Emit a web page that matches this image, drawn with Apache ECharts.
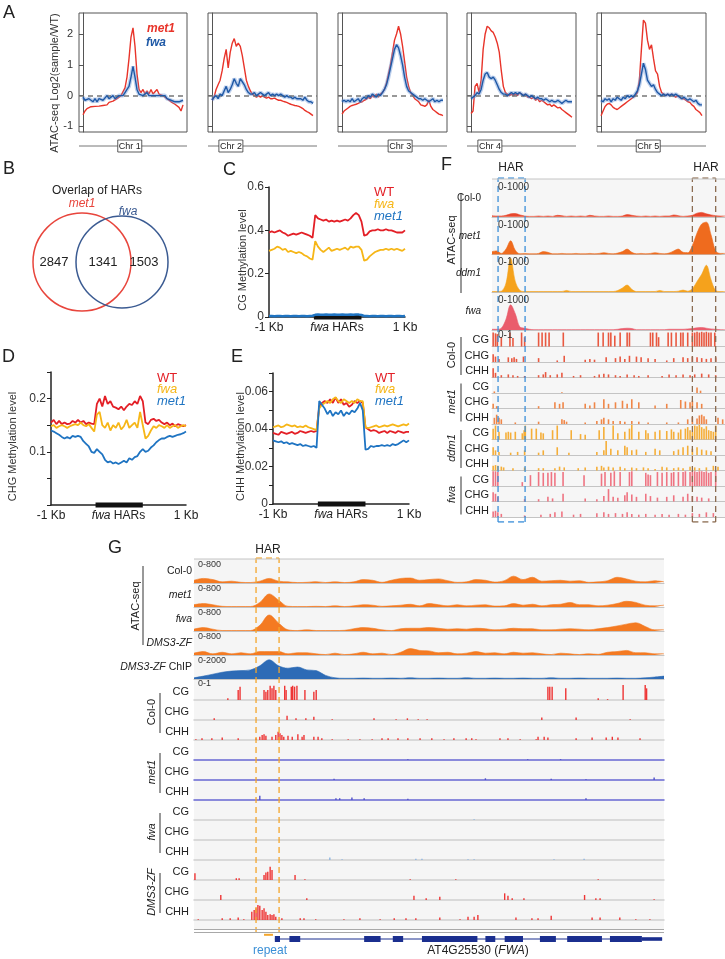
<!DOCTYPE html>
<html><head><meta charset="utf-8">
<script src="https://cdn.jsdelivr.net/npm/echarts@6/dist/echarts.min.js"></script>
<style>html,body{margin:0;padding:0;background:#fff}#c{width:725px;height:959px}</style>
</head><body><div id="c"></div>
<script>
// ---------- Panel A data (x = 0..100, 51 points) ----------
const chrNames = ['Chr 1','Chr 2','Chr 3','Chr 4','Chr 5'];
const chrCentromere = [0.47, 0.21, 0.57, 0.21, 0.47];
const aTicks = [-1, 0, 1, 2];
const chr1Met1 = [-0.62,-0.5,-0.42,-0.38,-0.36,-0.34,-0.35,-0.32,-0.34,-0.3,-0.32,-0.28,-0.3,-0.22,-0.28,-0.18,-0.12,-0.1,-0.05,0.0,0.05,0.25,0.6,1.2,1.9,2.2,1.6,0.7,0.2,0.1,0.2,0.05,0.15,0.05,0.2,0.05,0.1,0.2,0.05,0.1,0.0,-0.05,-0.1,-0.15,-0.2,-0.2,-0.28,-0.3,-0.38,-0.5,-0.3];
const chr1Fwa = [-0.05,-0.15,-0.2,-0.1,-0.15,-0.2,-0.1,-0.2,-0.1,-0.05,-0.15,-0.1,0.0,-0.1,-0.05,0.0,-0.1,-0.05,0.0,0.05,0.0,0.1,0.2,0.3,0.6,0.95,0.6,0.2,0.05,0.1,0.0,0.05,0.1,0.0,0.05,0.0,0.05,0.0,0.05,0.0,-0.05,0.0,-0.1,-0.05,-0.15,-0.1,-0.2,-0.15,-0.2,-0.25,-0.15];
const chr2Met1 = [-0.15,-0.05,0.2,0.35,0.5,0.8,1.2,1.5,0.9,1.4,1.7,1.85,1.6,1.7,1.6,1.3,0.9,0.5,0.3,0.15,0.05,0.0,-0.05,0.0,-0.05,0.0,-0.05,-0.08,-0.05,-0.1,-0.1,-0.08,-0.12,-0.15,-0.15,-0.18,-0.2,-0.22,-0.25,-0.28,-0.3,-0.32,-0.33,-0.35,-0.38,-0.42,-0.48,-0.52,-0.55,-0.6,-0.65];
const chr2Fwa = [-0.15,-0.05,0.0,-0.1,0.05,0.0,0.15,0.3,0.1,0.2,0.35,0.55,0.4,0.3,0.55,0.45,0.35,0.2,0.1,0.05,0.05,0.1,0.0,0.05,0.1,0.05,0.0,0.05,0.1,0.0,0.05,0.0,0.05,0.0,0.05,0.0,-0.05,0.0,-0.05,-0.05,-0.1,-0.05,-0.1,-0.1,-0.1,-0.15,-0.05,-0.15,-0.2,-0.2,-0.25];
const chr3Met1 = [-0.6,-0.5,-0.45,-0.4,-0.35,-0.32,-0.3,-0.28,-0.25,-0.22,-0.2,-0.15,-0.12,-0.05,-0.1,0.0,-0.05,0.05,-0.05,0.05,0.1,0.2,0.4,0.7,1.0,1.4,1.8,2.0,2.25,2.0,1.6,1.1,0.6,0.3,0.1,0.0,-0.1,-0.15,-0.2,-0.3,-0.32,-0.35,-0.3,-0.15,-0.35,-0.45,-0.5,-0.55,-0.6,-0.62,-0.65];
const chr3Fwa = [-0.2,-0.15,-0.2,-0.15,-0.2,-0.1,-0.2,-0.15,-0.1,-0.2,-0.1,-0.05,-0.1,0.0,-0.05,0.05,0.0,-0.05,0.05,0.0,0.1,0.2,0.35,0.6,0.9,1.2,1.5,1.65,1.55,1.3,1.0,0.6,0.3,0.15,0.1,0.05,0.0,-0.05,-0.1,-0.1,-0.15,-0.1,-0.15,-0.2,-0.15,-0.1,-0.2,-0.15,-0.2,-0.15,-0.15];
const chr4Met1 = [-0.58,-0.5,0.3,0.4,0.1,0.5,1.5,2.0,2.25,2.2,2.1,2.05,1.9,1.7,1.4,0.8,0.3,0.1,0.05,0.0,0.05,0.0,0.05,0.0,0.1,0.05,0.0,0.05,-0.05,-0.05,-0.1,-0.05,-0.15,-0.1,-0.2,-0.15,-0.2,-0.25,-0.3,-0.28,-0.35,-0.3,-0.35,-0.4,-0.38,-0.45,-0.5,-0.55,-0.6,-0.65,-0.7];
const chr4Fwa = [-0.1,-0.05,0.0,0.1,0.05,0.2,0.5,0.7,0.75,0.6,0.55,0.6,0.5,0.35,0.2,0.1,0.05,0.05,0.0,0.05,0.1,0.05,0.1,0.05,0.1,0.05,0.0,0.05,0.0,-0.05,0.0,-0.05,-0.1,-0.05,-0.1,-0.1,-0.15,-0.1,-0.15,-0.2,-0.15,-0.2,-0.2,-0.15,-0.2,-0.25,-0.2,-0.15,-0.2,-0.2,-0.2];
const chr5Met1 = [-0.65,-0.5,-0.35,-0.28,-0.25,-0.3,-0.38,-0.42,-0.45,-0.4,-0.35,-0.3,-0.25,-0.2,-0.15,-0.1,-0.05,0.0,0.1,0.5,1.5,2.45,2.35,1.8,1.5,1.65,1.2,0.8,0.7,0.3,0.1,0.05,0.0,0.05,0.0,0.05,0.0,-0.05,0.0,-0.05,-0.1,-0.1,-0.15,-0.2,-0.22,-0.3,-0.35,-0.45,-0.5,-0.55,-0.65];
const chr5Fwa = [-0.15,-0.2,-0.1,-0.15,-0.1,-0.2,-0.1,-0.15,-0.05,-0.1,-0.15,-0.05,-0.1,0.0,-0.05,0.0,-0.05,0.05,0.15,0.35,0.7,1.05,0.85,0.5,0.4,0.3,0.35,0.2,0.1,0.05,0.0,0.05,0.0,0.05,0.0,0.05,0.0,0.05,0.0,-0.05,-0.1,-0.05,-0.1,-0.15,-0.1,-0.15,-0.2,-0.15,-0.25,-0.3,-0.3];
const aMet1 = [chr1Met1, chr2Met1, chr3Met1, chr4Met1, chr5Met1];
const aFwa = [chr1Fwa, chr2Fwa, chr3Fwa, chr4Fwa, chr5Fwa];

// ---------- Panel B ----------
const vennSets = ['met1', 'fwa'];
const vennCounts = [2847, 1341, 1503];

// ---------- Panels C, D, E (x = 0..100, 51 points; HAR from 33 to 68) ----------
const harSpan = [33, 68];
const cWT = [0.39,0.395,0.39,0.395,0.40,0.39,0.385,0.375,0.38,0.385,0.38,0.385,0.39,0.385,0.38,0.375,0.365,0.47,0.455,0.45,0.445,0.45,0.44,0.445,0.44,0.445,0.44,0.445,0.45,0.445,0.455,0.47,0.48,0.47,0.44,0.375,0.38,0.395,0.40,0.40,0.405,0.40,0.40,0.405,0.40,0.40,0.395,0.39,0.39,0.39,0.40];
const cFwa = [0.305,0.31,0.315,0.325,0.32,0.31,0.315,0.30,0.305,0.30,0.295,0.30,0.295,0.285,0.28,0.27,0.265,0.35,0.325,0.31,0.30,0.31,0.32,0.305,0.31,0.315,0.31,0.315,0.32,0.31,0.325,0.32,0.325,0.325,0.31,0.26,0.265,0.28,0.29,0.30,0.305,0.31,0.31,0.315,0.31,0.315,0.31,0.315,0.31,0.305,0.315];
const cMet1 = [0.005,0.005,0.004,0.005,0.005,0.004,0.005,0.005,0.004,0.005,0.005,0.004,0.005,0.005,0.004,0.005,0.006,0.01,0.011,0.01,0.01,0.011,0.01,0.01,0.011,0.01,0.01,0.011,0.01,0.01,0.011,0.01,0.012,0.011,0.009,0.005,0.005,0.004,0.005,0.005,0.004,0.005,0.005,0.004,0.005,0.005,0.004,0.005,0.005,0.004,0.005];
const dWT = [0.155,0.16,0.152,0.158,0.152,0.155,0.152,0.153,0.158,0.155,0.16,0.155,0.158,0.152,0.155,0.153,0.152,0.19,0.2,0.185,0.205,0.19,0.195,0.185,0.183,0.18,0.185,0.178,0.185,0.19,0.188,0.195,0.19,0.205,0.195,0.155,0.152,0.16,0.162,0.158,0.16,0.155,0.152,0.155,0.15,0.153,0.148,0.152,0.15,0.148,0.15];
const dFwa = [0.148,0.15,0.145,0.148,0.15,0.148,0.145,0.148,0.15,0.152,0.15,0.155,0.15,0.148,0.152,0.145,0.138,0.17,0.175,0.15,0.145,0.155,0.14,0.15,0.145,0.155,0.142,0.148,0.16,0.145,0.15,0.155,0.145,0.175,0.15,0.125,0.13,0.14,0.148,0.145,0.15,0.148,0.145,0.15,0.145,0.148,0.15,0.145,0.148,0.15,0.148];
const dMet1 = [0.14,0.138,0.135,0.132,0.128,0.125,0.128,0.125,0.13,0.128,0.13,0.128,0.12,0.115,0.11,0.1,0.098,0.105,0.1,0.095,0.085,0.08,0.082,0.078,0.08,0.077,0.08,0.083,0.08,0.088,0.085,0.09,0.092,0.1,0.105,0.1,0.102,0.108,0.112,0.118,0.122,0.125,0.125,0.128,0.13,0.128,0.13,0.132,0.133,0.135,0.138];
const eWT = [0.038,0.0375,0.037,0.0385,0.038,0.0375,0.038,0.0385,0.0375,0.038,0.039,0.0385,0.038,0.0385,0.039,0.0385,0.039,0.052,0.054,0.055,0.054,0.056,0.054,0.057,0.054,0.056,0.053,0.054,0.052,0.053,0.055,0.054,0.055,0.054,0.041,0.040,0.039,0.0395,0.039,0.038,0.0385,0.039,0.038,0.039,0.0385,0.038,0.039,0.0385,0.038,0.0385,0.0385];
const eFwa = [0.041,0.0415,0.042,0.041,0.0415,0.0425,0.042,0.0415,0.042,0.041,0.0415,0.041,0.042,0.041,0.0405,0.040,0.0395,0.051,0.053,0.054,0.055,0.054,0.056,0.057,0.055,0.054,0.056,0.055,0.054,0.055,0.054,0.056,0.055,0.055,0.041,0.0405,0.041,0.0415,0.042,0.041,0.0415,0.042,0.0415,0.042,0.0425,0.042,0.0415,0.042,0.0425,0.042,0.043];
const eMet1 = [0.034,0.0335,0.033,0.0335,0.0325,0.033,0.032,0.0325,0.032,0.0315,0.032,0.031,0.0315,0.031,0.0305,0.031,0.030,0.055,0.053,0.051,0.048,0.05,0.047,0.049,0.048,0.05,0.047,0.049,0.048,0.05,0.049,0.051,0.054,0.05,0.029,0.0295,0.031,0.0305,0.031,0.031,0.0315,0.031,0.0315,0.031,0.032,0.0315,0.032,0.033,0.034,0.033,0.034];

// ---------- Panel F (position 0..100) ----------
const fHar = [[2.6, 14.2], [86, 96]];
const fColATAC = [0.03,0.02,0.02,0.04,0.08,0.09,0.05,0.02,0.01,0.01,0.02,0.01,0.02,0.01,0.04,0.03,0.01,0.02,0.01,0.02,0.01,0.04,0.02,0.01,0.01,0.02,0.01,0.01,0.02,0.06,0.04,0.02,0.01,0.02,0.01,0.02,0.01,0.02,0.02,0.05,0.03,0.01,0.02,0.04,0.1,0.12,0.08,0.05,0.03,0.02,0.02];
const fMet1ATAC = [0.08,0.1,0.03,0.15,0.38,0.12,0.02,0.03,0.02,0.02,0.03,0.08,0.06,0.02,0.02,0.03,0.02,0.02,0.03,0.02,0.02,0.03,0.02,0.03,0.05,0.03,0.02,0.04,0.08,0.15,0.06,0.02,0.03,0.02,0.03,0.05,0.03,0.02,0.04,0.1,0.15,0.06,0.05,0.25,0.6,0.85,0.9,0.55,0.1,0.03,0.03];
const fDdm1ATAC = [0.02,0.02,0.03,0.25,0.95,0.3,0.05,0.02,0.02,0.02,0.02,0.02,0.02,0.02,0.02,0.02,0.05,0.02,0.02,0.02,0.02,0.02,0.02,0.02,0.02,0.02,0.02,0.05,0.12,0.2,0.08,0.02,0.02,0.02,0.02,0.02,0.05,0.02,0.02,0.02,0.03,0.06,0.03,0.1,0.3,0.5,0.75,0.35,0.05,0.02,0.02];
const fFwaATAC = [0.02,0.02,0.05,0.3,0.7,0.45,0.08,0.05,0.02,0.01,0.01,0.01,0.01,0.01,0.01,0.01,0.01,0.01,0.01,0.01,0.01,0.01,0.01,0.01,0.01,0.01,0.01,0.02,0.04,0.05,0.04,0.01,0.01,0.01,0.01,0.01,0.01,0.01,0.02,0.02,0.02,0.02,0.03,0.04,0.06,0.07,0.05,0.03,0.02,0.01,0.01];
const fCol0CG = [[0.5,0.9],[1.5,0.85],[2.3,0.8],[4,0.6],[7.7,0.9],[9,0.55],[12.7,0.9],[14,0.6],[20,0.9],[21.5,0.9],[23,0.9],[24.5,0.9],[30.6,0.9],[45.6,0.9],[47.7,0.9],[50,0.9],[51,0.9],[52.7,0.7],[55,0.9],[58,0.9],[59,0.9],[68,0.9],[69,0.9],[70.6,0.9],[71.5,0.6],[75.6,0.9],[77,0.9],[79,0.9],[81,0.9],[82,0.9],[84,0.9],[86,0.9],[87,0.9],[88,0.95],[89,0.9],[90,0.95],[91,0.9],[92,0.95],[93,0.9],[94,0.9],[95.6,0.9]];
const fCol0CHG = [[0.5,0.5],[1.5,0.35],[3,0.2],[7,0.3],[8.5,0.25],[9.5,0.3],[10.5,0.2],[13.5,0.35],[20,0.25],[28,0.1],[31,0.4],[40,0.15],[42,0.2],[44,0.15],[49,0.3],[53,0.25],[55,0.35],[57,0.2],[59,0.4],[62,0.35],[64,0.3],[67,0.25],[70,0.2],[75,0.1],[78,0.25],[82,0.3],[84,0.25],[86,0.35],[88,0.3],[90,0.25],[92,0.2],[94,0.25],[96,0.3]];
const fCol0CHH = [[0.5,0.6],[1.5,0.3],[4,0.15],[7,0.2],[9,0.15],[11,0.1],[14,0.1],[20,0.15],[22,0.2],[23,0.35],[25,0.15],[28,0.2],[30,0.3],[35,0.1],[38,0.15],[44,0.1],[46,0.2],[48,0.25],[50,0.2],[53,0.15],[55,0.1],[58,0.2],[61,0.15],[63,0.1],[67,0.15],[73,0.1],[76,0.2],[79,0.15],[82,0.2],[85,0.15],[87,0.2],[90,0.25],[93,0.2],[96,0.15]];
const fMet1CG = [[1,0.1],[30,0.05],[88,0.35],[89.5,0.15]];
const fMet1CHG = [[0.5,0.3],[2,0.15],[20,0.15],[27,0.4],[29,0.3],[30.5,0.4],[40,0.3],[42,0.2],[44,0.4],[48,0.6],[50,0.3],[53,0.4],[56,0.5],[58,0.3],[60,0.6],[63,0.4],[70,0.2],[75,0.3],[81,0.55],[83,0.45],[85,0.4],[86,0.5],[88,0.4],[90,0.3]];
const fMet1CHH = [[1,0.4],[2,0.6],[3,0.4],[4,0.3],[10,0.1],[20,0.15],[30,0.3],[31,0.25],[32,0.15],[40,0.1],[45,0.2],[47,0.3],[48,0.4],[50,0.3],[52,0.2],[55,0.2],[57,0.15],[60,0.2],[63,0.15],[67,0.1],[75,0.1],[80,0.1],[84,0.3],[86,0.45],[88,0.35],[89,0.55],[90,0.6],[91,0.5],[92,0.3],[97,0.4],[99,0.3]];
const fDdm1CG = [[0.5,0.7],[1.5,0.9],[3,0.5],[6,0.45],[7,0.5],[8,0.45],[10,0.5],[13,0.4],[13.8,0.6],[14.3,0.9],[17,0.7],[19,0.7],[21,0.45],[22,0.4],[26,0.6],[28,0.9],[34,0.6],[38,0.35],[40,0.3],[46,0.6],[48,0.8],[52,0.9],[54,0.4],[57,0.5],[59,0.7],[60,0.95],[63,0.5],[66,0.6],[67,0.4],[70,0.5],[72,0.6],[75,0.55],[77,0.65],[78,0.5],[80,0.45],[81,0.65],[83,0.7],[84,0.8],[85,0.6],[86,0.5],[87,0.9],[88,0.85],[89,0.95],[90,0.8],[91,0.7],[92,0.85],[93,0.6],[94,0.55],[95,0.5],[96,0.9]];
const fDdm1CHG = [[0.5,0.5],[1.5,0.3],[3,0.2],[8,0.15],[11,0.2],[14,0.3],[20,0.15],[22,0.3],[28,0.5],[33,0.15],[45,0.2],[48,0.3],[49,0.9],[51,0.4],[54,0.3],[57,0.6],[58,0.5],[60,0.3],[62,0.35],[66,0.2],[70,0.4],[72,0.3],[78,0.25],[80,0.35],[82,0.5],[84,0.6],[86,0.4],[88,0.5],[90,0.35],[92,0.3],[94,0.25]];
const fDdm1CHH = [[0.5,0.3],[1.5,0.35],[2.5,0.3],[4,0.25],[5,0.2],[9,0.15],[14,0.2],[20,0.15],[22,0.15],[27,0.15],[29,0.25],[31,0.2],[37,0.15],[40,0.2],[45,0.25],[47,0.3],[48,0.2],[50,0.25],[52,0.2],[55,0.25],[57,0.15],[60,0.2],[62,0.15],[65,0.2],[67,0.15],[70,0.1],[73,0.25],[75,0.2],[78,0.15],[80,0.2],[82,0.15],[85,0.25],[87,0.2],[89,0.15],[92,0.2],[95,0.3],[97,0.25]];
const fFwaCG = [[0.5,0.95],[1.5,0.95],[2.5,0.9],[13,0.25],[16.5,0.7],[20,0.9],[22,0.85],[24,0.85],[25.5,0.9],[27,0.85],[30.5,0.9],[39.5,0.7],[47,0.8],[48.5,0.9],[51,0.85],[52.5,0.95],[55,0.9],[59,0.9],[60,0.95],[66,0.85],[67,0.75],[68,0.7],[71,0.9],[73,0.85],[75,0.9],[77,0.85],[78,0.9],[80,0.9],[82,0.9],[83,0.95],[85,0.9],[86,0.95],[87,0.95],[88,0.9],[89,0.95],[90,0.95],[91,0.9],[92,0.95],[93,0.85],[94,0.9],[96,0.95]];
const fFwaCHG = [[0.5,0.6],[1.5,0.5],[2.5,0.3],[14,0.15],[20,0.15],[24,0.3],[26,0.2],[30.5,0.5],[40,0.2],[45,0.15],[48,0.35],[50,0.8],[52,0.3],[54,0.25],[57,0.4],[58,0.6],[60,0.45],[62,0.3],[66,0.5],[68,0.35],[71,0.25],[75,0.3],[78,0.4],[82,0.3],[84,0.5],[86,0.35],[88,0.3],[90,0.25],[93,0.2]];
const fFwaCHH = [[0.5,0.35],[1.5,0.4],[2.5,0.3],[4,0.2],[14,0.1],[21,0.15],[25,0.2],[27,0.3],[30,0.35],[35,0.15],[38,0.2],[45,0.25],[48,0.3],[50,0.2],[53,0.25],[56,0.2],[58,0.3],[60,0.2],[63,0.15],[66,0.2],[70,0.15],[73,0.2],[76,0.15],[80,0.2],[83,0.15],[86,0.25],[89,0.2],[92,0.3],[95,0.25]];

// ---------- Panel G (position 0..100) ----------
const gHar = [13.2, 18.1];
const gCol0ATAC = [0.12,0.2,0.15,0.05,0.08,0.03,0.02,0.08,0.2,0.08,0.05,0.02,0.03,0.06,0.02,0.05,0.02,0.05,0.15,0.12,0.03,0.12,0.2,0.22,0.12,0.15,0.18,0.1,0.03,0.05,0.15,0.12,0.04,0.1,0.3,0.15,0.25,0.08,0.1,0.12,0.08,0.1,0.03,0.05,0.1,0.25,0.18,0.08,0.05,0.1,0.05];
const gMet1ATAC = [0.1,0.15,0.1,0.03,0.02,0.02,0.02,0.2,0.57,0.3,0.03,0.02,0.02,0.03,0.02,0.05,0.02,0.05,0.1,0.08,0.03,0.05,0.08,0.12,0.05,0.15,0.1,0.05,0.1,0.05,0.08,0.1,0.04,0.05,0.15,0.08,0.12,0.05,0.1,0.12,0.2,0.1,0.1,0.05,0.08,0.15,0.25,0.2,0.08,0.05,0.08];
const gFwaATAC = [0.08,0.15,0.08,0.02,0.02,0.02,0.02,0.25,0.7,0.35,0.05,0.02,0.05,0.02,0.02,0.02,0.03,0.1,0.15,0.12,0.05,0.02,0.1,0.12,0.12,0.15,0.12,0.08,0.1,0.08,0.12,0.1,0.05,0.08,0.12,0.1,0.1,0.05,0.05,0.08,0.1,0.08,0.05,0.1,0.15,0.22,0.3,0.36,0.2,0.05,0.05];
const gDmsATAC = [0.08,0.15,0.05,0.12,0.05,0.1,0.05,0.15,0.15,0.15,0.05,0.1,0.1,0.05,0.02,0.08,0.02,0.05,0.12,0.05,0.08,0.02,0.12,0.28,0.2,0.18,0.1,0.12,0.05,0.08,0.15,0.08,0.1,0.05,0.12,0.08,0.1,0.05,0.02,0.08,0.05,0.02,0.05,0.03,0.12,0.15,0.2,0.1,0.1,0.05,0.05];
const gChIP = [0.05,0.12,0.2,0.28,0.33,0.35,0.38,0.55,0.8,0.55,0.45,0.5,0.38,0.35,0.15,0.05,0.03,0.03,0.04,0.03,0.03,0.04,0.03,0.05,0.03,0.03,0.04,0.03,0.03,0.05,0.03,0.03,0.04,0.03,0.03,0.04,0.03,0.03,0.05,0.03,0.03,0.04,0.03,0.03,0.03,0.04,0.03,0.03,0.05,0.08,0.12];
const gCol0CG = [[7.2,0.1],[9.4,0.6],[9.8,0.8],[14.9,0.6],[15.3,0.5],[15.7,0.6],[16.2,0.85],[16.6,0.7],[17,0.85],[17.4,0.6],[19.3,0.85],[19.6,0.6],[20.7,0.8],[21,0.85],[21.4,0.8],[21.9,0.85],[23.6,0.6],[25.5,0.5],[26,0.6],[75.3,0.8],[75.7,0.8],[76.2,0.8],[79.1,0.7],[86,0.1],[88,0.05],[91.3,0.9],[96,0.9],[96.3,0.7]];
const gCol0CHG = [[4.3,0.1],[19.8,0.25],[21.7,0.1],[23.8,0.1],[25.5,0.2],[29.4,0.05],[38.3,0.1],[43,0.05],[45.4,0.1],[47.7,0.05],[49.6,0.05],[74,0.15],[81.3,0.15],[92.8,0.05]];
const gCol0CHH = [[0.4,0.05],[1.7,0.1],[3.8,0.1],[6,0.15],[9.4,0.1],[13.2,0.1],[14,0.2],[14.5,0.3],[14.9,0.35],[15.3,0.25],[16.6,0.2],[17.4,0.3],[17.9,0.5],[18.3,0.4],[18.7,0.3],[19.1,0.2],[20,0.25],[20.9,0.2],[22.1,0.35],[23,0.2],[23.4,0.3],[25.5,0.2],[26.4,0.2],[27.2,0.1],[29.4,0.05],[32.8,0.05],[35.3,0.05],[37.9,0.05],[40,0.1],[41.3,0.1],[43.4,0.1],[45.5,0.1],[48.1,0.1],[50.6,0.1],[53.2,0.05],[55.3,0.1],[57.9,0.1],[59.1,0.1],[60,0.05],[65.1,0.1],[66.8,0.1],[69.4,0.05],[72.8,0.05],[73.2,0.2],[74.5,0.2],[75.3,0.15],[81.3,0.1],[84.7,0.15],[87.7,0.15],[89,0.2],[90.2,0.15],[94.9,0.1]];
const gMet1CG = [[45.5,0.05],[71,0.05],[78,0.05]];
const gMet1CHG = [[29.8,0.08],[62,0.1],[76,0.08],[83.4,0.05],[97.9,0.15]];
const gMet1CHH = [[14,0.25],[30.2,0.1],[31,0.1],[33.6,0.15],[36.2,0.1],[45.5,0.08],[83.4,0.1]];
const gFwaCG = [[59.6,0.05]];
const gFwaCHG = [];
const gFwaCHH = [[28.9,0.15],[31.5,0.05],[47.2,0.08],[48.5,0.08],[58.3,0.05],[59.6,0.05],[76.6,0.05],[83,0.08]];
const gDmsCG = [[0.2,0.4],[9,0.1],[9.6,0.1],[14.9,0.3],[15.3,0.45],[15.7,0.5],[16.2,0.8],[16.6,0.6],[21.5,0.3],[23.6,0.05],[46,0.05],[55.7,0.05],[86,0.05]];
const gDmsCHG = [[5.7,0.3],[24,0.1],[46.8,0.25],[49.4,0.1],[52.3,0.2],[66.1,0.4],[66.8,0.25],[67.7,0.1],[70.2,0.1],[83.1,0.3],[85.5,0.1],[86.4,0.1],[97.9,0.05]];
const gDmsCHH = [[0.9,0.05],[6,0.1],[7.7,0.1],[9.4,0.15],[10.6,0.05],[12.3,0.5],[12.8,0.6],[13.2,0.7],[13.6,0.9],[14,0.85],[14.5,0.6],[14.9,0.7],[15.3,0.5],[15.7,0.3],[16.2,0.35],[16.6,0.3],[17,0.35],[17.4,0.2],[18.7,0.1],[22.6,0.1],[23.4,0.1],[25.9,0.05],[31.9,0.05],[35.3,0.1],[39.6,0.05],[42.6,0.1],[45.1,0.1],[47.2,0.1],[52.3,0.15],[56.6,0.05],[58.3,0.2],[59.6,0.2],[60.4,0.3],[68.5,0.15],[71.9,0.1],[73.2,0.1],[76,0.25],[84.7,0.15],[86.4,0.15],[90.6,0.15],[94,0.05],[97,0.05]];
const geneExons = [[17.2,18.3,1],[20.3,22.6,1],[36.2,39.7,1],[42.3,44.5,1],[48.5,60.3,1],[62,64.1,1],[66.1,70,1],[73.6,77,1],[79.4,86.8,1],[88.5,95.3,1],[95.3,99.6,0.6]];
const geneSpan = [17.2, 99.6];
const repeatSpan = [14.9, 16.8];

// ================= build =================
const FF = "'Liberation Sans', Arial, Helvetica, sans-serif";
const grids = [], xAxes = [], yAxes = [], series = [], graphics = [];
function addGrid(g, xa, ya) {
  grids.push(Object.assign({containLabel: false}, g));
  const i = grids.length - 1;
  xa.gridIndex = i; ya.gridIndex = i;
  xAxes.push(xa); yAxes.push(ya);
  return i;
}
function T(x, y, text, o) {
  o = o || {};
  const st = {text: text, fill: o.color || '#222',
    font: (o.style || 'normal') + ' ' + (o.weight || 'normal') + ' ' + (o.size || 12) + 'px ' + FF,
    textAlign: o.align || 'left', textVerticalAlign: o.va || 'middle',
    align: o.align || 'left', verticalAlign: o.va || 'middle'};
  if (o.rich) st.rich = o.rich;
  graphics.push({type: 'text', x: x, y: y, rotation: o.rot || 0, z: 100, silent: true, style: st});
}
function L(x1, y1, x2, y2, color, w, dash) {
  graphics.push({type: 'line', z: 50, silent: true, shape: {x1, y1, x2, y2},
    style: {stroke: color, lineWidth: w || 1, lineDash: dash || null}});
}
const idx = (arr) => arr.map((v, i) => [i * 100 / (arr.length - 1), v]);
const hiddenX = (min, max) => ({type: 'value', min, max, show: false});

// ---------- Panel A ----------
const chrBoxes = [[79,187],[208,317],[338,447],[467,576],[597,706]];
chrNames.forEach((n, k) => {
  const [l, r] = chrBoxes[k];
  const gi = addGrid({left: l, top: 13, width: r - l, height: 119, show: true, borderColor: '#555', borderWidth: 1},
    hiddenX(-4, 104),
    {type: 'value', min: -1.18, max: 2.68,
     axisLine: {show: true, lineStyle: {color: '#555'}}, splitLine: {show: false},
     axisTick: {show: true, customValues: aTicks, length: 4, lineStyle: {color: '#555'}},
     axisLabel: {show: k === 0, customValues: aTicks, fontSize: 11, color: '#333', margin: 6, fontFamily: FF}});
  series.push({type: 'line', xAxisIndex: gi, yAxisIndex: gi, data: idx(aMet1[k]), symbol: 'none',
    lineStyle: {color: '#e8342a', width: 1.4}, z: 3,
    markLine: {silent: true, symbol: 'none', label: {show: false},
      lineStyle: {type: [5, 4], color: '#777', width: 1.5}, data: [{yAxis: 0}]}});
  series.push({type: 'line', xAxisIndex: gi, yAxisIndex: gi, data: idx(aFwa[k]), symbol: 'none',
    lineStyle: {color: 'rgba(110,150,215,0.45)', width: 4}, z: 4});
  series.push({type: 'line', xAxisIndex: gi, yAxisIndex: gi, data: idx(aFwa[k]), symbol: 'none',
    lineStyle: {color: '#1f59a6', width: 1.4}, z: 5});
  L(l, 146, r, 146, '#777', 1);
  const cx = l + (r - l) * chrCentromere[k];
  graphics.push({type: 'rect', z: 60, silent: true, shape: {x: cx - 12, y: 140, width: 24, height: 12},
    style: {fill: '#fff', stroke: '#333', lineWidth: 0.8}});
  T(cx, 146.5, n, {size: 9, align: 'center'});
});
T(55, 83, 'ATAC-seq Log2(sample/WT)', {size: 11, align: 'center', rot: Math.PI / 2, color: '#333'});
T(147, 29, 'met1', {size: 12, style: 'italic', weight: 'bold', color: '#e8342a'});
T(146, 43, 'fwa', {size: 12, style: 'italic', weight: 'bold', color: '#1f59a6'});

// ---------- Panel B (Venn) ----------
graphics.push({type: 'circle', z: 40, silent: true, shape: {cx: 82, cy: 262, r: 49}, style: {fill: 'none', stroke: '#e8453c', lineWidth: 1.5}});
graphics.push({type: 'circle', z: 41, silent: true, shape: {cx: 122, cy: 262, r: 46}, style: {fill: 'none', stroke: '#3b5b92', lineWidth: 1.5}});
T(97, 191, 'Overlap of HARs', {size: 12, align: 'center'});
T(82, 204, vennSets[0], {size: 12, style: 'italic', align: 'center', color: '#e8453c'});
T(128, 212, vennSets[1], {size: 12, style: 'italic', align: 'center', color: '#3b5b92'});
T(54, 262, String(vennCounts[0]), {size: 13, align: 'center'});
T(103, 262, String(vennCounts[1]), {size: 13, align: 'center'});
T(144, 262, String(vennCounts[2]), {size: 13, align: 'center'});

// ---------- Panels C, D, E ----------
const metCols = {WT: '#e31f26', fwa: '#f6b617', met1: '#1f74c2'};
function profile(box, ymax, interval, fmt, data, title, titleX) {
  const gi = addGrid({left: box[0], top: box[1], width: box[2] - box[0], height: box[3] - box[1]},
    {type: 'value', min: 0, max: 100, axisLine: {show: true, onZero: false, lineStyle: {color: '#222', width: 1.5}},
     axisTick: {show: false}, axisLabel: {show: false}, splitLine: {show: false}},
    {type: 'value', min: 0, max: ymax, interval: interval,
     axisLine: {show: true, lineStyle: {color: '#222', width: 1.5}},
     axisTick: {show: true, length: 4, lineStyle: {color: '#222'}},
     axisLabel: {fontSize: 12, color: '#333', margin: 5, fontFamily: FF, formatter: fmt},
     splitLine: {show: false}});
  series.push({type: 'line', xAxisIndex: gi, yAxisIndex: gi, data: [[harSpan[0], 0], [harSpan[1], 0]],
    symbol: 'none', clip: false, lineStyle: {color: '#111', width: 5}, z: 2});
  [['WT', data[0]], ['fwa', data[1]], ['met1', data[2]]].forEach(([nm, arr]) => {
    series.push({type: 'line', xAxisIndex: gi, yAxisIndex: gi, data: idx(arr), symbol: 'none', clip: false,
      lineStyle: {color: metCols[nm], width: nm === 'met1' && ymax > 0.5 ? 2.5 : 1.8}, z: 3});
  });
  const [l, t, r, b] = box;
  T(titleX, t + (b - t) / 2 + 8, title, {size: 11, align: 'center', rot: Math.PI / 2, color: '#333'});
  T(l, b + 11, '-1 Kb', {size: 12, align: 'center'});
  T(r, b + 11, '1 Kb', {size: 12, align: 'center'});
  T(l + (r - l) * 0.5, b + 11, '{i|fwa} HARs', {size: 12, align: 'center',
    rich: {i: {fontStyle: 'italic', fontSize: 12, fontFamily: FF, fill: '#222'}}});
}
profile([269, 187, 405, 317], 0.6, 0.2, null, [cWT, cFwa, cMet1], 'CG Methylation level', 243);
profile([51, 372, 186, 505], 0.25, 0.05, v => { const r = Math.round(v * 100); return (r === 10 || r === 20) ? (r / 100).toString() : ''; },
  [dWT, dFwa, dMet1], 'CHG Methylation level', 13);
profile([273, 373, 409, 504], 0.07, 0.01, v => { const r = Math.round(v * 100); return (r % 2 === 0) ? (r === 0 ? '0' : (r / 100).toString()) : ''; },
  [eWT, eFwa, eMet1], 'CHH Methylation level', 241);
function legendWFM(x, y0, dy) {
  T(x, y0, 'WT', {size: 13, color: metCols.WT});
  T(x, y0 + dy, 'fwa', {size: 13, style: 'italic', color: metCols.fwa});
  T(x, y0 + 2 * dy, 'met1', {size: 13, style: 'italic', color: metCols.met1});
}
legendWFM(374, 192, 12);
legendWFM(157, 378, 11.5);
legendWFM(375, 378, 11.5);

// ---------- Panel F ----------
const fL = 492, fW = 233;
const fAtac = [['Col-0', fColATAC, '#e8472c', false], ['met1', fMet1ATAC, '#ef6b1e', true],
               ['ddm1', fDdm1ATAC, '#f5a21c', true], ['fwa', fFwaATAC, '#ea5d6c', true]];
const trackX = () => ({type: 'value', min: 0, max: 100, axisLine: {show: true, onZero: false, lineStyle: {color: '#c4c4c4', width: 1}},
  axisTick: {show: false}, axisLabel: {show: false}, splitLine: {show: false}});
const hidY = (max) => ({type: 'value', min: 0, max: max, show: false});
fAtac.forEach(([nm, arr, col, it], k) => {
  const top = 179 + 37.75 * k;
  const gi = addGrid({left: fL, top: top, width: fW, height: 37.75, show: true, backgroundColor: '#f6f6f6', borderWidth: 0}, trackX(), hidY(1.05));
  series.push({type: 'line', xAxisIndex: gi, yAxisIndex: gi, data: idx(arr), symbol: 'none', smooth: 0.35,
    lineStyle: {color: col, width: 0.6}, areaStyle: {color: col, opacity: 1}});
  T(498, top + 8, '0-1000', {size: 10, color: '#333'});
  T(481, top + 19, nm, {size: 10, align: 'right', style: it ? 'italic' : 'normal'});
});
L(fL, 179, fL + fW, 179, '#c4c4c4', 1);
T(452, 240, 'ATAC-seq', {size: 11, align: 'center', rot: Math.PI / 2});
L(461, 193, 461, 293, '#333', 1);
const fMeth = [['Col-0', [fCol0CG, fCol0CHG, fCol0CHH], '#e8472c', false], ['met1', [fMet1CG, fMet1CHG, fMet1CHH], '#f07a34', true],
               ['ddm1', [fDdm1CG, fDdm1CHG, fDdm1CHH], '#f5a623', true], ['fwa', [fFwaCG, fFwaCHG, fFwaCHH], '#ee6676', true]];
const ctx = ['CG', 'CHG', 'CHH'];
fMeth.forEach(([nm, rows, col, it], gk) => {
  rows.forEach((arr, rk) => {
    const top = 331 + 15.5 * (gk * 3 + rk);
    const gi = addGrid({left: fL, top: top, width: fW, height: 15.5, show: true, backgroundColor: '#f6f6f6', borderWidth: 0}, trackX(), hidY(1.0));
    series.push({type: 'bar', xAxisIndex: gi, yAxisIndex: gi, data: arr, barWidth: 1.6, barGap: '-100%',
      itemStyle: {color: col, opacity: 0.9}});
    T(489, top + 9, ctx[rk], {size: 11, align: 'right'});
  });
  const gTop = 331 + 15.5 * gk * 3;
  L(461, gTop + 6, 461, gTop + 44, '#333', 1);
  T(452, gTop + 24, nm, {size: 11, align: 'center', rot: Math.PI / 2, style: it ? 'italic' : 'normal'});
});
T(498, 335, '0-1', {size: 10, color: '#333'});
const fo = addGrid({left: fL, top: 178, width: fW, height: 344}, hiddenX(0, 100), hidY(1));
[[fHar[0], '#3b8fd9'], [fHar[1], '#8c6d52']].forEach(([h, c]) => {
  const ls = {color: c, width: 1.3, type: [6, 4]};
  series.push({type: 'line', xAxisIndex: fo, yAxisIndex: fo, symbol: 'none', z: 10, lineStyle: ls, data: [[h[0], 0], [h[0], 1]]});
  series.push({type: 'line', xAxisIndex: fo, yAxisIndex: fo, symbol: 'none', z: 10, lineStyle: ls, data: [[h[1], 0], [h[1], 1]]});
  series.push({type: 'line', xAxisIndex: fo, yAxisIndex: fo, symbol: 'none', z: 10, lineStyle: ls, data: [[h[0], 1], [h[1], 1]]});
  series.push({type: 'line', xAxisIndex: fo, yAxisIndex: fo, symbol: 'none', z: 10, lineStyle: ls, data: [[h[0], 0], [h[1], 0]]});
});
T(511, 168, 'HAR', {size: 12, align: 'center'});
T(706, 168, 'HAR', {size: 12, align: 'center'});

// ---------- Panel G ----------
const gL = 194, gW = 470;
const gAtac = [['Col-0', gCol0ATAC, false, '0-800'], ['met1', gMet1ATAC, true, '0-800'], ['fwa', gFwaATAC, true, '0-800'], ['DMS3-ZF', gDmsATAC, true, '0-800']];
gAtac.forEach(([nm, arr, it, sc], k) => {
  const top = 559 + 24 * k;
  const gi = addGrid({left: gL, top: top, width: gW, height: 24, show: true, backgroundColor: '#f5f5f5', borderWidth: 0}, trackX(), hidY(1.05));
  series.push({type: 'line', xAxisIndex: gi, yAxisIndex: gi, data: idx(arr), symbol: 'none', smooth: 0.35,
    lineStyle: {color: '#f47a22', width: 0.6}, areaStyle: {color: '#f47a22', opacity: 1}});
  T(198, top + 6, sc, {size: 9, color: '#333'});
  T(192, top + 12, nm, {size: 10.5, align: 'right', style: it ? 'italic' : 'normal'});
});
{
  const top = 655;
  const gi = addGrid({left: gL, top: top, width: gW, height: 24, show: true, backgroundColor: '#f5f5f5', borderWidth: 0}, trackX(), hidY(1.0));
  series.push({type: 'line', xAxisIndex: gi, yAxisIndex: gi, data: idx(gChIP), symbol: 'none', smooth: 0.35,
    lineStyle: {color: '#2d6bb6', width: 0.6}, areaStyle: {color: '#2d6bb6', opacity: 1}});
  T(198, top + 6, '0-2000', {size: 9, color: '#333'});
  T(192, top + 12, '{i|DMS3-ZF} ChIP', {size: 10.5, align: 'right',
    rich: {i: {fontStyle: 'italic', fontSize: 10.5, fontFamily: FF, fill: '#222'}}});
}
L(gL, 559, gL + gW, 559, '#c4c4c4', 1);
T(136, 606, 'ATAC-seq', {size: 11, align: 'center', rot: Math.PI / 2});
L(143, 566, 143, 645, '#333', 1);
const gMeth = [['Col-0', [gCol0CG, gCol0CHG, gCol0CHH], '#ee3434', '#cfcfcf', false],
               ['met1', [gMet1CG, gMet1CHG, gMet1CHH], '#4f4fc9', '#6767d2', true],
               ['fwa', [gFwaCG, gFwaCHG, gFwaCHH], '#8db5e2', '#cfcfcf', true],
               ['DMS3-ZF', [gDmsCG, gDmsCHG, gDmsCHH], '#ee3434', '#cfcfcf', true]];
gMeth.forEach(([nm, rows, col, base, it], gk) => {
  rows.forEach((arr, rk) => {
    const top = 680 + 20 * (gk * 3 + rk);
    const gi = addGrid({left: gL, top: top, width: gW, height: 20, show: true, backgroundColor: '#f5f5f5', borderWidth: 0},
      {type: 'value', min: 0, max: 100, axisLine: {show: true, onZero: false, lineStyle: {color: base, width: 1.5}},
       axisTick: {show: false}, axisLabel: {show: false}, splitLine: {show: false}}, hidY(1.2));
    series.push({type: 'bar', xAxisIndex: gi, yAxisIndex: gi, data: arr, barWidth: 1.4,
      itemStyle: {color: col}});
    T(189, top + 12, ctx[rk], {size: 11, align: 'right'});
  });
  const gTop = 680 + 20 * gk * 3;
  L(160, gTop + 13, 160, gTop + 53, '#333', 1);
  T(152, gTop + 32, nm, {size: 11, align: 'center', rot: Math.PI / 2, style: it ? 'italic' : 'normal'});
});
T(198, 684, '0-1', {size: 9, color: '#333'});
graphics.push({type: 'rect', z: 0, silent: true, shape: {x: gL, y: 920, width: gW, height: 9}, style: {fill: '#f5f5f5'}});
L(gL, 929.5, gL + gW, 929.5, '#a8a8a8', 1.2);
L(gL, 932.5, gL + gW, 932.5, '#a8a8a8', 1.2);
const go = addGrid({left: gL, top: 558, width: gW, height: 375}, hiddenX(0, 100), hidY(1));
{
  const ls = {color: '#f4a52a', width: 1.3, type: [6, 4]};
  series.push({type: 'line', xAxisIndex: go, yAxisIndex: go, symbol: 'none', z: 10, lineStyle: ls, data: [[gHar[0], 0], [gHar[0], 1]]});
  series.push({type: 'line', xAxisIndex: go, yAxisIndex: go, symbol: 'none', z: 10, lineStyle: ls, data: [[gHar[1], 0], [gHar[1], 1]]});
  series.push({type: 'line', xAxisIndex: go, yAxisIndex: go, symbol: 'none', z: 10, lineStyle: ls, data: [[gHar[0], 1], [gHar[1], 1]]});
}
T(268, 550, 'HAR', {size: 12, align: 'center'});
const gg = addGrid({left: gL, top: 933, width: gW, height: 12}, hiddenX(0, 100), hidY(1));
series.push({type: 'line', xAxisIndex: gg, yAxisIndex: gg, symbol: 'none', data: [[geneSpan[0], 0.5], [geneSpan[1], 0.5]],
  lineStyle: {color: '#1b2f8f', width: 1}});
series.push({type: 'line', xAxisIndex: gg, yAxisIndex: gg, symbol: 'none', data: [[repeatSpan[0], 0.85], [repeatSpan[1], 0.85]],
  lineStyle: {color: '#f4a52a', width: 2}});
series.push({type: 'custom', xAxisIndex: gg, yAxisIndex: gg, data: geneExons, encode: {x: [0, 1]},
  renderItem: (params, api) => {
    const h = api.value(2);
    const p0 = api.coord([api.value(0), 0.5 + 0.25 * h]);
    const p1 = api.coord([api.value(1), 0.5 - 0.25 * h]);
    return {type: 'rect', shape: {x: p0[0], y: p0[1], width: p1[0] - p0[0], height: p1[1] - p0[1]}, style: {fill: '#1b2f8f'}};
  }});
T(270, 951, 'repeat', {size: 12, align: 'center', color: '#3a8fd6'});
T(478, 951, 'AT4G25530 ({i|FWA})', {size: 12, align: 'center',
  rich: {i: {fontStyle: 'italic', fontSize: 12, fontFamily: FF, fill: '#222'}}});

[['A', 3, 13], ['B', 3, 169], ['C', 223, 170], ['D', 2, 357], ['E', 231, 357], ['F', 441, 165], ['G', 108, 548]].forEach(([t, x, y]) =>
  T(x, y, t, {size: 18, color: '#222'}));

const chart = echarts.init(document.getElementById('c'), null, {renderer: 'canvas'});
chart.setOption({animation: false, backgroundColor: '#fff', textStyle: {fontFamily: FF},
  grid: grids, xAxis: xAxes, yAxis: yAxes, series: series, graphic: {elements: graphics}});
</script></body></html>
